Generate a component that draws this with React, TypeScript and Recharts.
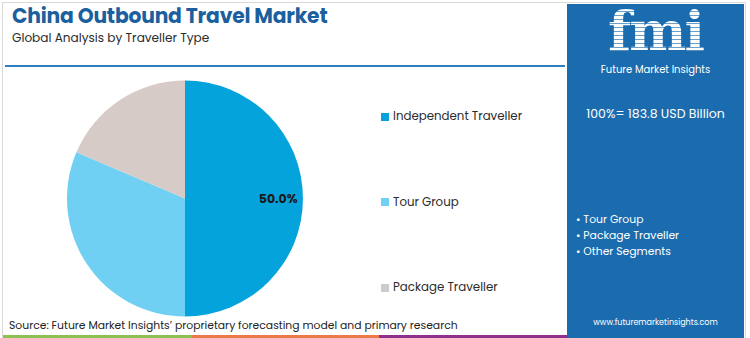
import { PieChart, Pie, Cell } from 'recharts'

const segments = ['Independent Traveller', 'Tour Group', 'Package Traveller']
const shares = [50.0, 31.4, 18.6]
const colors = ['#05a3dc', '#70d0f3', '#d6cbc7']
const legendColors = ['#05a3dc', '#70d0f3', '#cccccc']
const panelItems = ['Tour Group', 'Package Traveller', 'Other Segments']

const data = segments.map((name, i) => ({ name, value: shares[i] }))

const font = '"Poppins", "Open Sans", "Noto Sans", sans-serif'

const RAD = Math.PI / 180

function renderLabel(props: any) {
  const { cx, cy, midAngle, outerRadius, index, value } = props
  if (index !== 0) return null
  const r = outerRadius * 0.79
  const x = cx + r * Math.cos(-midAngle * RAD)
  const y = cy + r * Math.sin(-midAngle * RAD)
  return (
    <text
      x={x}
      y={y}
      textAnchor="middle"
      dominantBaseline="central"
      fill="#1a1a1a"
      fontSize={12.5}
      fontWeight={700}
      fontFamily={font}
    >
      {value.toFixed(1)}%
    </text>
  )
}

export default function App() {
  return (
    <div
      style={{
        position: 'fixed',
        left: 0,
        top: 0,
        width: 750,
        height: 338,
        background: '#fff',
        fontFamily: font,
        overflow: 'hidden',
      }}
    >
      {/* outer frame */}
      <div
        style={{
          position: 'absolute',
          left: 2,
          top: 2,
          width: 744,
          height: 340,
          border: '1px solid #d9d9d9',
          boxSizing: 'border-box',
        }}
      />

      <div
        style={{
          position: 'absolute',
          left: 12,
          top: 4,
          fontSize: 20.3,
          lineHeight: '24px',
          fontWeight: 700,
          color: '#1b5f9e',
          whiteSpace: 'nowrap',
          letterSpacing: -0.2,
        }}
      >
        China Outbound Travel Market
      </div>
      <div
        style={{
          position: 'absolute',
          left: 12,
          top: 30,
          fontSize: 12.1,
          lineHeight: '15px',
          color: '#2b2b2b',
          whiteSpace: 'nowrap',
        }}
      >
        Global Analysis by Traveller Type
      </div>
      <div
        style={{
          position: 'absolute',
          left: 5,
          top: 65,
          width: 560,
          height: 2,
          background: '#2f7dc0',
        }}
      />

      <div style={{ position: 'absolute', left: 0, top: 0 }}>
        <PieChart width={370} height={338}>
          <Pie
            data={data}
            dataKey="value"
            nameKey="name"
            cx={180}
            cy={193.5}
            outerRadius={118}
            startAngle={90}
            endAngle={-270}
            stroke="none"
            label={renderLabel}
            labelLine={false}
            isAnimationActive={false}
          >
            {data.map((d, i) => (
              <Cell key={d.name} fill={colors[i]} />
            ))}
          </Pie>
        </PieChart>
      </div>

      {segments.map((name, i) => (
        <div
          key={name}
          style={{
            position: 'absolute',
            left: 381,
            top: 108 + i * 85.5,
            display: 'flex',
            alignItems: 'center',
            whiteSpace: 'nowrap',
          }}
        >
          <span
            style={{
              width: 8,
              height: 8,
              background: legendColors[i],
              marginRight: 4,
              display: 'inline-block',
            }}
          />
          <span style={{ fontSize: 11.8, color: '#2b2b2b' }}>{name}</span>
        </div>
      ))}

      <div
        style={{
          position: 'absolute',
          left: 9,
          top: 318,
          fontSize: 10.8,
          lineHeight: '15px',
          color: '#222',
          whiteSpace: 'nowrap',
        }}
      >
        Source: Future Market Insights’ proprietary forecasting model and primary research
      </div>
      <div style={{ position: 'absolute', left: 3, top: 335, width: 189, height: 3, background: '#8cc152' }} />
      <div style={{ position: 'absolute', left: 192, top: 335, width: 187, height: 3, background: '#ec7a48' }} />
      <div style={{ position: 'absolute', left: 379, top: 335, width: 188, height: 3, background: '#8e2f8f' }} />

      {/* right panel */}
      <div
        style={{
          position: 'absolute',
          left: 567,
          top: 4,
          width: 177,
          height: 334,
          background: '#1b6cae',
          color: '#fff',
        }}
      >
        <div
          style={{
            position: 'absolute',
            left: 0,
            width: 177,
            top: -4,
            height: 62,
            textAlign: 'center',
            fontSize: 54,
            fontWeight: 700,
            fontFamily: '"DejaVu Serif", serif',
            letterSpacing: -2,
            lineHeight: '62px',
            backgroundImage:
              'repeating-linear-gradient(180deg, #ffffff 0px, #ffffff 3px, rgba(255,255,255,0.35) 3px, rgba(255,255,255,0.35) 4px)',
            WebkitBackgroundClip: 'text',
            backgroundClip: 'text',
            WebkitTextFillColor: 'transparent',
          }}
        >
          fmi
        </div>
        <div
          style={{
            position: 'absolute',
            left: 0,
            width: 177,
            top: 59,
            lineHeight: '13px',
            textAlign: 'center',
            fontSize: 10,
            whiteSpace: 'nowrap',
          }}
        >
          Future Market Insights
        </div>
        <div
          style={{
            position: 'absolute',
            left: 0,
            width: 177,
            top: 101,
            textAlign: 'center',
            fontSize: 12.5,
            whiteSpace: 'nowrap',
          }}
        >
          100%= 183.8 USD Billion
        </div>
        {panelItems.map((t, i) => (
          <div
            key={t}
            style={{
              position: 'absolute',
              left: 9,
              top: 208 + i * 16,
              fontSize: 10.8,
              lineHeight: '15px',
              whiteSpace: 'nowrap',
            }}
          >
            • {t}
          </div>
        ))}
        <div
          style={{
            position: 'absolute',
            left: 0,
            width: 177,
            top: 313,
            textAlign: 'center',
            fontSize: 8,
            whiteSpace: 'nowrap',
          }}
        >
          www.futuremarketinsights.com
        </div>
      </div>
    </div>
  )
}
